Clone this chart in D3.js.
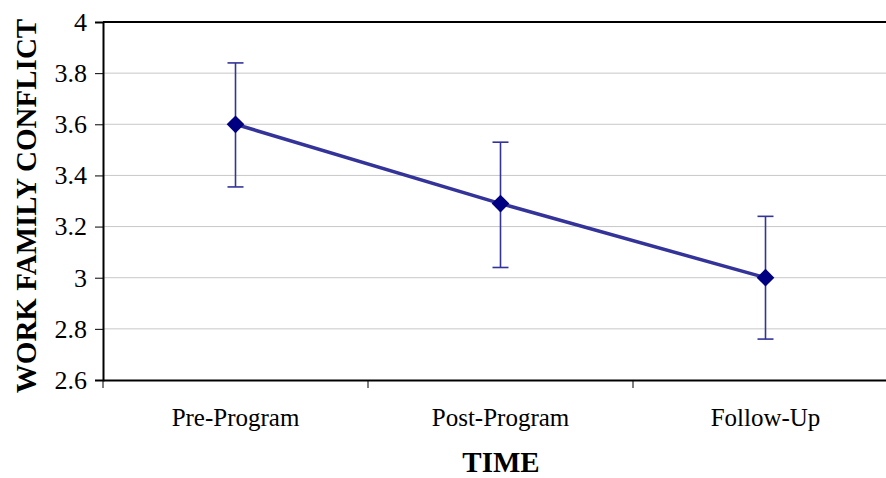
<!DOCTYPE html>
<html>
<head>
<meta charset="utf-8">
<script src="https://cdn.jsdelivr.net/npm/d3@7"></script>
<style>
  body { margin: 0; background: #fff; }
  svg { display: block; }
  text { font-family: "Liberation Serif", "Times New Roman", serif; }
</style>
</head>
<body>
<div id="chart"></div>
<script>
// chart data
var categories = ['Pre-Program', 'Post-Program', 'Follow-Up']
var means = [3.6, 3.29, 3.0]
var upper = [3.84, 3.53, 3.24]
var lower = [3.355, 3.04, 2.76]
var yTicks = [2.6, 2.8, 3, 3.2, 3.4, 3.6, 3.8, 4]

var width = 886
var height = 478
var margin = { left: 103, top: 22, bottom: 98 }
var plotRight = 898 // plot area runs past the window edge

var svg = d3.select('#chart').append('svg')
  .attr('width', width)
  .attr('height', height)

var x = d3.scaleBand().domain(categories).range([margin.left, plotRight])
var y = d3.scaleLinear().domain([2.6, 4]).range([height - margin.bottom, margin.top])

// gridlines
svg.append('g')
  .selectAll('line')
  .data(yTicks.slice(1))
  .enter().append('line')
  .attr('x1', margin.left).attr('x2', plotRight)
  .attr('y1', d => y(d)).attr('y2', d => y(d))
  .attr('stroke', d => d === 4 ? '#000' : '#c8c8c8')
  .attr('stroke-width', d => d === 4 ? 2 : 1)

// y axis
var yAxis = svg.append('g')
  .attr('transform', 'translate(' + margin.left + ',0)')
  .call(d3.axisLeft(y).tickValues(yTicks).tickSize(8).tickPadding(8).tickFormat(d3.format('')))
yAxis.attr('font-family', null)
yAxis.select('.domain').attr('stroke', '#000').attr('stroke-width', 2)
yAxis.selectAll('.tick line').attr('stroke', '#000')
yAxis.selectAll('.tick text')
  .attr('font-size', 26)
  .attr('fill', '#000')

// x axis
var xAxis = svg.append('g')
  .attr('transform', 'translate(0,' + y(2.6) + ')')
  .call(d3.axisBottom(x).tickSize(0).tickPadding(28))
xAxis.attr('font-family', null)
xAxis.select('.domain').attr('stroke', '#000').attr('stroke-width', 2)
xAxis.selectAll('.tick text')
  .attr('font-size', 25)
  .attr('fill', '#000')

// category divider ticks
svg.append('g')
  .selectAll('line')
  .data(categories)
  .enter().append('line')
  .attr('x1', d => x(d)).attr('x2', d => x(d))
  .attr('y1', y(2.6)).attr('y2', y(2.6) + 8)
  .attr('stroke', '#000')

// axis titles
svg.append('text')
  .attr('x', 501).attr('y', 472)
  .attr('text-anchor', 'middle')
  .style('font-size', '29px')
  .style('font-weight', 'bold')
  .text('TIME')

svg.append('text')
  .attr('transform', 'translate(36,206) rotate(-90)')
  .attr('text-anchor', 'middle')
  .style('font-size', '29px')
  .style('font-weight', 'bold')
  .text('WORK FAMILY CONFLICT')

var cx = d => x(d) + x.bandwidth() / 2
var errColor = '#333399'

// error bars
var err = svg.append('g')
categories.forEach(function (c, i) {
  err.append('line')
    .attr('x1', cx(c)).attr('x2', cx(c))
    .attr('y1', y(upper[i])).attr('y2', y(lower[i]))
    .attr('stroke', errColor).attr('stroke-width', 1.6)
  ;[upper[i], lower[i]].forEach(function (v) {
    err.append('line')
      .attr('x1', cx(c) - 8).attr('x2', cx(c) + 8)
      .attr('y1', y(v)).attr('y2', y(v))
      .attr('stroke', errColor).attr('stroke-width', 1.6)
  })
})

// mean line
var line = d3.line()
  .x((d, i) => cx(categories[i]))
  .y(d => y(d))
svg.append('path')
  .datum(means)
  .attr('d', line)
  .attr('fill', 'none')
  .attr('stroke', '#333399')
  .attr('stroke-width', 3.5)

// diamond markers
svg.append('g')
  .selectAll('path')
  .data(means)
  .enter().append('path')
  .attr('d', d3.symbol().type(d3.symbolDiamond2).size(200))
  .attr('transform', (d, i) => 'translate(' + cx(categories[i]) + ',' + y(d) + ')')
  .attr('fill', '#000080')
</script>
</body>
</html>
